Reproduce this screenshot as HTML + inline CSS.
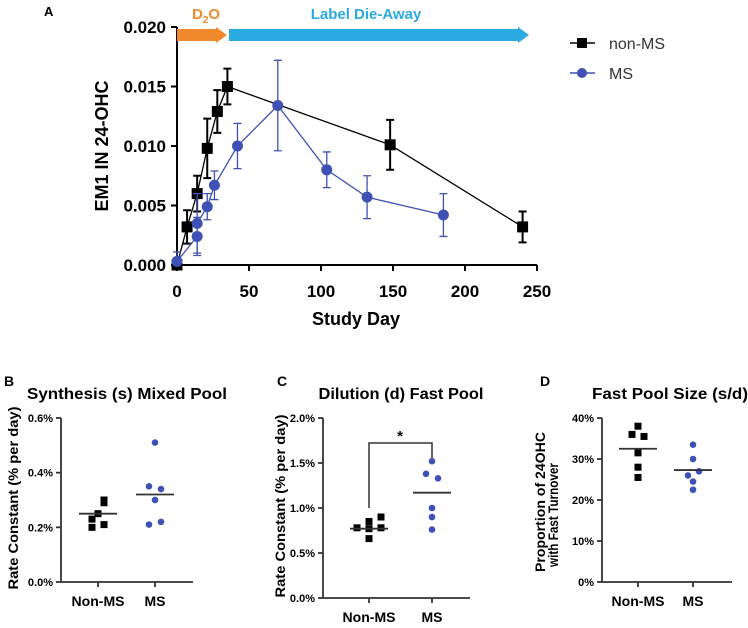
<!DOCTYPE html>
<html><head><meta charset="utf-8"><style>
body{margin:0;background:#fff;width:748px;height:623px;overflow:hidden}
svg{font-family:"Liberation Sans",sans-serif;font-weight:bold}
</style></head><body>
<svg id="s" width="748" height="623"></svg>
<script>
// Panel A data
const aNonDays=[0,7,14,21,28,35,148,240];
const aNonVals=[0.0000,0.0032,0.0060,0.0098,0.0129,0.0150,0.0101,0.0032];
const aNonErr=[0.0003,0.0014,0.0015,0.0025,0.0018,0.0015,0.0021,0.0013];
const aMsDays=[0,14,14,21,26,42,70,104,132,185];
const aMsVals=[0.0003,0.0024,0.0035,0.0049,0.0067,0.0100,0.0134,0.0080,0.0057,0.0042];
const aMsErr=[0.0008,0.0016,0.0025,0.0011,0.0012,0.0019,0.0038,0.0015,0.0018,0.0018];
const aYTicks=[0,0.005,0.010,0.015,0.020];
const aYLabels=["0.000","0.005","0.010","0.015","0.020"];
const aXTicks=[0,50,100,150,200,250];
// Panel B
const bNon=[0.30,0.29,0.25,0.23,0.20,0.21];const bMs=[0.51,0.35,0.34,0.30,0.21,0.22];
const bNonMean=0.25,bMsMean=0.32;
// Panel C
const cNon=[0.78,0.77,0.90,0.85,0.78,0.66];const cMs=[1.52,1.38,1.33,1.00,0.90,0.76];
const cNonMean=0.77,cMsMean=1.17;
// Panel D
const dNon=[38,36,35.5,31.5,28,25.5];const dMs=[33.5,30,27,26,24.5,22.5];
const dNonMean=32.5,dMsMean=27.3;
const cats=["Non-MS","MS"];

const S=document.getElementById('s');const NS="http://www.w3.org/2000/svg";
function el(t,a,txt){const e=document.createElementNS(NS,t);for(const k in a)e.setAttribute(k,a[k]);if(txt!==undefined)e.textContent=txt;S.appendChild(e);return e;}
const BL="#3f51b5",BK="#000";

// ---- Panel A
const ax=d=>177+d*(360/250), ay=v=>265-v*(238/0.020);
let e;
e=el('text',{x:44,y:16,'font-size':13},'A');
e=el('line',{x1:177,y1:ay(0.02),x2:177,y2:265,stroke:BK,'stroke-width':2});
e=el('line',{x1:177,y1:265,x2:537,y2:265,stroke:BK,'stroke-width':2});
aYTicks.forEach((v,i)=>{el('line',{x1:171,x2:177,y1:ay(v),y2:ay(v),stroke:BK,'stroke-width':2});
 e=el('text',{x:166,y:ay(v)+6,'font-size':17,'text-anchor':'end'},aYLabels[i]);});
aXTicks.forEach(d=>{el('line',{x1:ax(d),x2:ax(d),y1:265,y2:271,stroke:BK,'stroke-width':2});
 e=el('text',{x:ax(d),y:297,'font-size':17,'text-anchor':'middle'},d);});
e=el('text',{x:356,y:325,'font-size':18,'text-anchor':'middle'},'Study Day');
e=el('text',{x:0,y:0,'font-size':18,'text-anchor':'middle',transform:'translate(108,146) rotate(-90)'},'EM1 IN 24-OHC');
// arrows
e=el('polygon',{points:'177,29 216,29 216,27 227,35 216,43 216,41 177,41',fill:'#f08a2c'});
e=el('polygon',{points:'229,29 518,29 518,27 529,35 518,43 518,41 229,41',fill:'#29abe2'});
e=el('text',{x:192,y:19,'font-size':15,fill:'#f08a2c'});
e.innerHTML='D<tspan font-size="10" dy="4">2</tspan><tspan dy="-4">O</tspan>';
e=el('text',{x:366,y:19,'font-size':15,fill:'#29abe2','text-anchor':'middle'},'Label Die-Away');
function series(days,vals,errs,col,sq,name,w){
 el('polyline',{points:days.map((d,i)=>ax(d)+','+ay(vals[i])).join(' '),fill:'none',stroke:col,'stroke-width':1.3});
 days.forEach((d,i)=>{const x=ax(d),y1=ay(vals[i]+errs[i]),y2=ay(Math.max(0,vals[i]-errs[i]));
  el('path',{d:`M${x},${y1}V${y2}M${x-w},${y1}H${x+w}M${x-w},${y2}H${x+w}`,stroke:col,'stroke-width':sq?2:1.3,fill:'none'});
  const m=sq?el('rect',{x:x-5.5,y:ay(vals[i])-5.5,width:11,height:11,fill:col}):el('circle',{cx:x,cy:ay(vals[i]),r:5.5,fill:col});
  });}
series(aNonDays,aNonVals,aNonErr,BK,true,'non-ms',4);
series(aMsDays,aMsVals,aMsErr,BL,false,'ms',4);
// legend
el('line',{x1:570,x2:595,y1:43,y2:43,stroke:BK,'stroke-width':1.5});el('rect',{x:577,y:38,width:10,height:10,fill:BK});
e=el('text',{x:609,y:49,'font-size':16,'font-weight':'normal',fill:'#333'},'non-MS');
el('line',{x1:570,x2:595,y1:73,y2:73,stroke:BL,'stroke-width':1.5});el('circle',{cx:582,cy:73,r:5,fill:BL});
e=el('text',{x:609,y:79,'font-size':16,'font-weight':'normal',fill:'#333'},'MS');

// ---- dot panels
function dotPanel(o){
 const yy=v=>o.y0-v*(o.y0-o.yTop)/o.max;
 e=el('text',{x:o.lx,y:386,'font-size':14},o.letter);
 e=el('text',{x:o.tx,y:399,'font-size':15.5,'text-anchor':'middle',textLength:o.tw,lengthAdjust:'spacingAndGlyphs'},o.title);
 el('line',{x1:o.x0,x2:o.x0,y1:o.yTop,y2:o.y0,stroke:'#333','stroke-width':1.8});
 el('line',{x1:o.x0,x2:o.x1,y1:o.y0,y2:o.y0,stroke:'#333','stroke-width':1.8});
 o.ticks.forEach((t,i)=>{el('line',{x1:o.x0-5,x2:o.x0,y1:yy(t),y2:yy(t),stroke:'#333','stroke-width':1.8});
  e=el('text',{x:o.x0-8,y:yy(t)+4,'font-size':11,'text-anchor':'end'},o.labels[i]);});
 [o.cx0,o.cx1].forEach((cx,i)=>{el('line',{x1:cx,x2:cx,y1:o.y0,y2:o.y0+5,stroke:'#333','stroke-width':1.8});
  e=el('text',{x:cx,y:o.y0+24,'font-size':14,'text-anchor':'middle',textLength:i?21:53,lengthAdjust:'spacingAndGlyphs'},cats[i]);});
 o.non.forEach((v,i)=>{e=el('rect',{x:o.cx0+o.offN[i]-3.5,y:yy(v)-3.5,width:7,height:7,fill:BK});});
 o.ms.forEach((v,i)=>{e=el('circle',{cx:o.cx1+o.offM[i],cy:yy(v),r:3.3,fill:BL});});
 el('line',{x1:o.cx0-19,x2:o.cx0+19,y1:yy(o.m0),y2:yy(o.m0),stroke:'#333','stroke-width':1.8});
 el('line',{x1:o.cx1-19,x2:o.cx1+19,y1:yy(o.m1),y2:yy(o.m1),stroke:'#333','stroke-width':1.8});
 o.ytitle.forEach((t,i)=>{e=el('text',{x:0,y:0,'font-size':o.yf,'text-anchor':'middle',textLength:o.yl[i],lengthAdjust:'spacingAndGlyphs',transform:`translate(${o.ytx+i*13},${o.ytc[i]}) rotate(-90)`},t);});
 return yy;}
dotPanel({letter:'B',lx:4,tx:127,tw:200,title:'Synthesis (s) Mixed Pool',x0:61,x1:193,y0:582,yTop:418,max:0.6,ticks:[0,0.2,0.4,0.6],labels:['0.0%','0.2%','0.4%','0.6%'],cx0:98,cx1:155,non:bNon,ms:bMs,m0:bNonMean,m1:bMsMean,offN:[6,6,0,-6,-6,6],offM:[0,-6,6,0,-6,6],ytitle:['Rate Constant (% per day)'],ytx:18,ytc:[498],yl:[183],yf:14});
dotPanel({letter:'C',lx:277,tx:401,tw:165,title:'Dilution (d) Fast Pool',x0:323,x1:470,y0:598,yTop:418,max:2.0,ticks:[0,0.5,1.0,1.5,2.0],labels:['0.0%','0.5%','1.0%','1.5%','2.0%'],cx0:369,cx1:432,non:cNon,ms:cMs,m0:cNonMean,m1:cMsMean,offN:[-12,0,12,0,12,0],offM:[0,-6,6,0,0,0],ytitle:['Rate Constant (% per day)'],ytx:285,ytc:[506],yl:[183],yf:14});
e=el('path',{d:'M369,508V443H432V458',stroke:'#333','stroke-width':1.5,fill:'none'});
e=el('text',{x:400,y:441,'font-size':15,'text-anchor':'middle'},'*');
dotPanel({letter:'D',lx:540,tx:670,tw:156,title:'Fast Pool Size (s/d)',x0:602,x1:732,y0:582,yTop:418,max:40,ticks:[0,10,20,30,40],labels:['0%','10%','20%','30%','40%'],cx0:638,cx1:693,non:dNon,ms:dMs,m0:dNonMean,m1:dMsMean,offN:[0,-6,6,0,0,0],offM:[0,0,6,-5,0,0],ytitle:['Proportion of 24OHC','with Fast Turnover'],ytx:545,ytc:[502,515],yl:[140,104],yf:13.5});
</script></body></html>
